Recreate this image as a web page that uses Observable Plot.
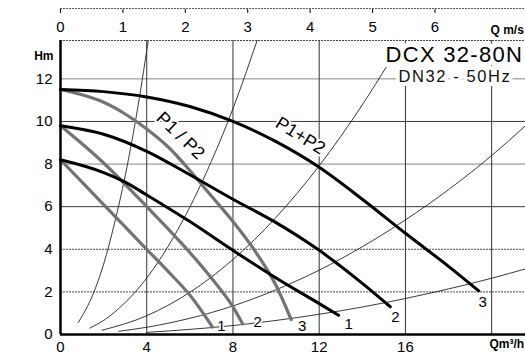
<!DOCTYPE html>
<html>
<head>
<meta charset="utf-8">
<script src="https://cdn.jsdelivr.net/npm/d3@7"></script>
<script src="https://cdn.jsdelivr.net/npm/@observablehq/plot@0.6"></script>
<style>
  body { margin: 0; background: #fff; }
  #chart svg { display: block; }
</style>
</head>
<body>
<div id="chart"></div>
<script>
// Axis ticks
const flowTicks = [0, 4, 8, 12, 16];          // Q m³/h
const headTicks = [0, 2, 4, 6, 8, 10, 12];     // H m
const velocityTicks = [0, 1, 2, 3, 4, 5, 6];   // pipe velocity m/s
const flowPerVelocity = 2.895;                 // m³/h per m/s in a DN32 pipe
const flowGrid = [4, 8, 12, 16, 20];
const headGridSolid = [6, 10];
const headGridLight = [8, 12];
const headGridDotted = [2, 4];
const flowMax = 21.57;
const headMax = 13.8;

// Single pump (P1 / P2), speeds 1..3
const single1Q = [0, 1, 2, 3, 4, 5, 6, 7.05];
const single1H = [8.2, 7.15, 6.1, 5.05, 4.0, 2.95, 1.85, 0.35];
const single2Q = [0, 1, 2, 3, 4, 5, 6, 7, 8, 8.45];
const single2H = [9.8, 8.95, 8.05, 7.05, 6.0, 4.95, 3.85, 2.65, 1.3, 0.5];
const single3Q = [0, 1, 2, 3, 4, 5, 6, 7, 8, 9, 10, 10.7];
const single3H = [11.5, 11.25, 10.9, 10.35, 9.65, 8.8, 7.7, 6.5, 5.3, 3.95, 2.3, 0.7];

// Both pumps in parallel (P1+P2), speeds 1..3
const twin1Q = [0, 2, 3, 4, 6, 8, 10, 12, 12.9];
const twin1H = [8.2, 7.6, 7.15, 6.55, 5.3, 3.95, 2.65, 1.45, 0.9];
const twin2Q = [0, 2, 4, 6, 8, 10, 12, 14, 15.3];
const twin2H = [9.8, 9.4, 8.6, 7.5, 6.35, 5.25, 3.95, 2.4, 1.3];
const twin3Q = [0, 2, 4, 6, 8, 10, 12, 14, 16, 18, 19.4];
const twin3H = [11.5, 11.4, 11.15, 10.7, 10.0, 9.05, 7.85, 6.35, 4.75, 3.2, 2.05];

// System (resistance) curves
const sysAQ = [0.82, 1.5, 2.0, 2.5, 3.0, 3.5, 4.07];
const sysAH = [0.56, 1.87, 3.3, 5.2, 7.45, 10.15, 13.8];
const sysBQ = [1.36, 2, 3, 4, 5, 6, 7, 8, 9.12];
const sysBH = [0.3, 0.66, 1.5, 2.65, 4.15, 5.98, 8.13, 10.6, 13.8];
const sysCQ = [1.93, 4, 6, 8, 10, 12, 14, 15.2];
const sysCH = [0.2, 0.88, 1.98, 3.52, 5.5, 7.92, 10.78, 12.7];
const sysDQ = [2.7, 4, 6, 8, 10, 12, 14, 16, 18, 20, 21.57];
const sysDH = [0.15, 0.34, 0.76, 1.34, 2.1, 3.02, 4.12, 5.38, 6.8, 8.4, 9.8];
const sysEQ = [4, 6, 8, 10, 12, 14, 16, 18, 20, 21.57];
const sysEH = [0.1, 0.24, 0.42, 0.66, 0.95, 1.29, 1.69, 2.14, 2.64, 3.08];

const toRows = (id, qs, hs) => qs.map((q, i) => ({id, q, h: hs[i]}));

const singleRows = [
  ...toRows("1", single1Q, single1H),
  ...toRows("2", single2Q, single2H),
  ...toRows("3", single3Q, single3H)
];
const twinRows = [
  ...toRows("1", twin1Q, twin1H),
  ...toRows("2", twin2Q, twin2H),
  ...toRows("3", twin3Q, twin3H)
];
const systemRows = [
  ...toRows("A", sysAQ, sysAH),
  ...toRows("B", sysBQ, sysBH),
  ...toRows("C", sysCQ, sysCH),
  ...toRows("D", sysDQ, sysDH),
  ...toRows("E", sysEQ, sysEH)
];

// Speed numbers sit just past the end of each curve
const lastPoint = (rows, id) => rows.filter(d => d.id === id).at(-1);
const singleEnds = ["1", "2", "3"].map(id => lastPoint(singleRows, id));
const twinEnds = ["1", "2", "3"].map(id => lastPoint(twinRows, id));
const singleOffsets = [[9, -1], [15, -2], [11, 7]];
const twinOffsets = [[10, 9], [5, 10], [4, 11]];

const curveNames = [
  {text: "P1 / P2", q: 5.57, h: 9.33, angle: 44},
  {text: "P1+P2", q: 11.13, h: 9.33, angle: 32}
];

const modelName = "DCX 32-80N";
const modelSub = "DN32 - 50Hz";

const font = "'Liberation Sans', Arial, Helvetica, sans-serif";

const endLabels = (ends, offsets) => ends.map((d, i) =>
  Plot.text([d], {
    x: "q", y: "h", text: "id",
    dx: offsets[i][0], dy: offsets[i][1],
    fontSize: 15, fill: "#000",
    stroke: "#fff", strokeWidth: 3, paintOrder: "stroke"
  })
);

const chart = Plot.plot({
  width: 525,
  height: 354,
  marginLeft: 60,
  marginRight: 0,
  marginTop: 40,
  marginBottom: 20,
  style: {fontFamily: font, fontSize: "15px", color: "#000", background: "#fff"},
  x: {domain: [0, flowMax], label: null},
  y: {domain: [0, headMax], label: null},
  marks: [
    // grid
    Plot.ruleY(headGridSolid, {stroke: "#222", strokeWidth: 0.9}),
    Plot.ruleY(headGridLight, {stroke: "#777", strokeWidth: 0.9}),
    Plot.ruleY(headGridDotted, {stroke: "#333", strokeWidth: 0.9, strokeDasharray: "2,1"}),
    Plot.ruleX(flowGrid, {stroke: "#333", strokeWidth: 1}),

    // system curves
    Plot.line(systemRows, {x: "q", y: "h", z: "id", stroke: "#222", strokeWidth: 0.9, curve: "monotone-x"}),

    // pump curves
    Plot.line(singleRows, {x: "q", y: "h", z: "id", stroke: "#737373", strokeWidth: 3.2, curve: "monotone-x", strokeLinecap: "round"}),
    Plot.line(twinRows, {x: "q", y: "h", z: "id", stroke: "#000", strokeWidth: 3, curve: "monotone-x", strokeLinecap: "round"}),

    // frame
    Plot.ruleY([headMax], {stroke: "#444", strokeWidth: 1, strokeDasharray: "2,1"}),
    Plot.ruleX([0], {stroke: "#000", strokeWidth: 2.5}),
    Plot.ruleY([0], {stroke: "#000", strokeWidth: 2.5}),

    // velocity scale on top
    Plot.ruleY([headMax], {dy: -32, stroke: "#555", strokeWidth: 1, strokeDasharray: "2,1"}),
    Plot.axisX({anchor: "top", ticks: velocityTicks.map(v => v * flowPerVelocity), tickSize: 4, dy: -28, tickFormat: () => ""}),
    Plot.axisX({anchor: "top", ticks: velocityTicks.map(v => v * flowPerVelocity), tickSize: 0, tickPadding: 9, tickFormat: d => Math.round(d / flowPerVelocity), fontSize: 15}),

    // flow and head axes
    Plot.axisX({anchor: "bottom", ticks: flowTicks, tickSize: 0, tickPadding: 7, fontSize: 15}),
    Plot.axisY({anchor: "left", ticks: headTicks, tickSize: 0, tickPadding: 8, fontSize: 15}),

    // axis units
    Plot.text(["Hm"], {frameAnchor: "top-left", dx: -7, dy: 11, textAnchor: "end", fontWeight: "bold", fontSize: 12}),
    Plot.text(["Q m/s"], {frameAnchor: "top-right", dx: -35, dy: -15, textAnchor: "start", fontWeight: "bold", fontSize: 12}),
    Plot.text(["Qm³/h"], {frameAnchor: "bottom-right", dx: -36, dy: 13, textAnchor: "start", fontWeight: "bold", fontSize: 12}),

    // curve names
    ...curveNames.map(c => Plot.text([c], {
      x: "q", y: "h", text: "text", rotate: c.angle, fontSize: 18,
      stroke: "#fff", strokeWidth: 4, paintOrder: "stroke", fill: "#000"
    })),

    // speed numbers
    ...endLabels(singleEnds, singleOffsets),
    ...endLabels(twinEnds, twinOffsets),

    // model name
    Plot.text([modelName], {frameAnchor: "top-right", dx: -140, dy: 21, textAnchor: "start", lineAnchor: "bottom",
      fontSize: 22, fill: "#000", stroke: "#fff", strokeWidth: 10, strokeLinejoin: "round", paintOrder: "stroke"}),
    Plot.text([modelSub], {frameAnchor: "top-right", dx: -127, dy: 41, textAnchor: "start", lineAnchor: "bottom",
      fontSize: 16.5, fill: "#111", stroke: "#fff", strokeWidth: 8, strokeLinejoin: "round", paintOrder: "stroke"})
  ]
});

// widen the model name lettering
d3.select(chart).selectAll("text")
  .filter(function () { return this.textContent === modelName; })
  .attr("letter-spacing", 1.3);
d3.select(chart).selectAll("text")
  .filter(function () { return this.textContent === modelSub; })
  .attr("letter-spacing", 1.6);

document.getElementById("chart").append(chart);
</script>
</body>
</html>
